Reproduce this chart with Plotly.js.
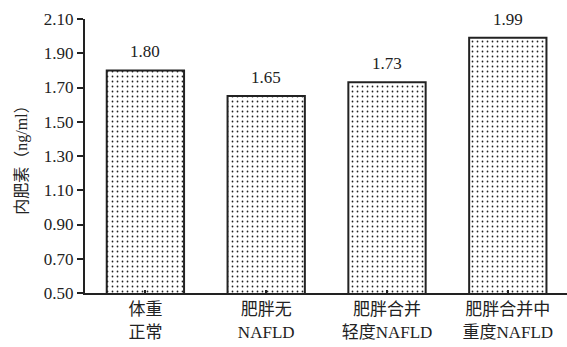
<!DOCTYPE html>
<html>
<head>
<meta charset="utf-8">
<script src="https://cdn.plot.ly/plotly-3.0.1.min.js"></script>
<style>html,body{margin:0;padding:0;background:#fff;}#chart{width:567px;height:347px;}</style>
</head>
<body>
<div id="chart"></div>
<script>
var categories = ["体重<br>正常", "肥胖无<br>NAFLD", "肥胖合并<br>轻度NAFLD", "肥胖合并中<br>重度NAFLD"];
var values = [1.80, 1.65, 1.73, 1.99];
var valueLabels = ["1.80", "1.65", "1.73", "1.99"];
var yTicks = [0.50, 0.70, 0.90, 1.10, 1.30, 1.50, 1.70, 1.90, 2.10];
var yTickLabels = ["0.50", "0.70", "0.90", "1.10", "1.30", "1.50", "1.70", "1.90", "2.10"];

var FONT = "Liberation Serif, Noto Sans CJK SC, serif";
var xIdx = categories.map(function(_, i){ return i; });

var trace = {
  type: "bar",
  x: xIdx,
  y: values,
  width: 0.64,
  marker: {
    color: "#ffffff",
    line: {color: "#222", width: 2},
    pattern: {shape: ".", size: 5, solidity: 0.1, fgcolor: "#222", bgcolor: "#ffffff"}
  },
  hoverinfo: "none"
};

var annotations = values.map(function(v, i){
  return {x: i, y: v, text: valueLabels[i], showarrow: false, xanchor: "center", yanchor: "bottom", yshift: 7,
          font: {family: FONT, size: 17, color: "#222"}};
});

var layout = {
  width: 567, height: 347,
  margin: {l: 85, r: 0, t: 19, b: 54},
  paper_bgcolor: "#fff", plot_bgcolor: "#fff",
  showlegend: false,
  font: {family: FONT, size: 17, color: "#222"},
  xaxis: {
    range: [-0.5, 3.49],
    tickmode: "array", tickvals: xIdx, ticktext: categories,
    tickson: "boundaries",
    ticks: "inside", ticklen: 3, tickwidth: 2, tickcolor: "#222",
    showline: true, linecolor: "#222", linewidth: 2,
    showgrid: false, zeroline: false,
    tickfont: {family: FONT, size: 17, color: "#222"}
  },
  yaxis: {
    range: [0.5, 2.1],
    tickmode: "array", tickvals: yTicks, ticktext: yTickLabels,
    ticks: "outside", ticklen: 6, tickwidth: 2, tickcolor: "#222",
    showline: true, linecolor: "#222", linewidth: 2,
    showgrid: false, zeroline: false,
    tickfont: {family: FONT, size: 17, color: "#222"},
    title: {text: "内肥素（ng/ml）", font: {family: FONT, size: 16, color: "#222"}, standoff: 12}
  },
  annotations: annotations
};

Plotly.newPlot("chart", [trace], layout, {staticPlot: true, displayModeBar: false});
</script>
</body>
</html>
